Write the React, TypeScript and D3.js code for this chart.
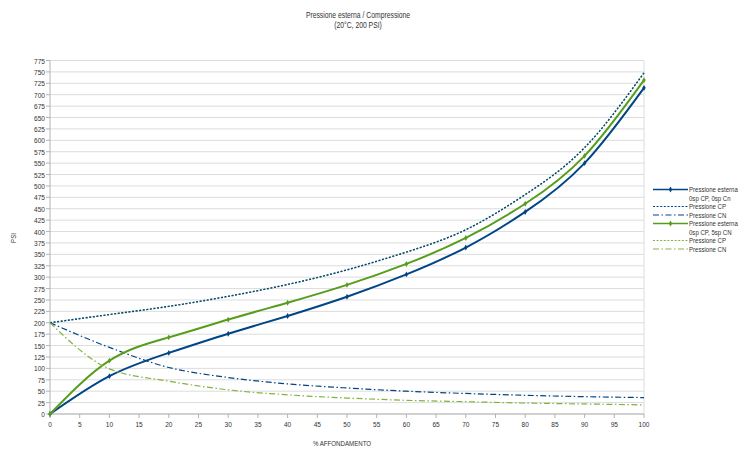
import React from 'react'
import * as d3 from 'd3'

const xValues = [0, 10, 20, 30, 40, 50, 60, 70, 80, 90, 100]
const esterna0 = [0, 83, 134, 176, 215, 257, 306, 365, 443, 550, 715]
const cp0 = [200, 218, 236, 258, 284, 316, 355, 404, 481, 584, 748]
const cn0 = [200, 146, 102, 80, 66, 57, 50, 45, 41, 38, 36]
const esterna5 = [0, 117, 168, 207, 244, 283, 329, 386, 461, 566, 732]
const cp5 = [200, 218, 236, 258, 284, 316, 355, 404, 481, 584, 748]
const cn5 = [200, 99, 72, 53, 42, 35, 30, 27, 24, 22, 20]

const xTicks = d3.range(0, 101, 5)
const yTicks = d3.range(0, 776, 25)

const BLUE = '#004586'
const GREEN = '#579d1c'
const GREEN_LIGHT = '#83b23e'
const FONT = "'Liberation Sans', Arial, sans-serif"

type Series = {
  label: string[]
  values: number[]
  color: string
  dash: string
  width: number
  marker: boolean
  smooth: boolean
}

const series: Series[] = [
  { label: ['Pressione esterna', '0sp CP, 0sp Cn'], values: esterna0, color: BLUE, dash: '', width: 2, marker: true, smooth: true },
  { label: ['Pressione CP'], values: cp0, color: BLUE, dash: '2,1.6', width: 1.4, marker: false, smooth: true },
  { label: ['Pressione CN'], values: cn0, color: BLUE, dash: '6,2.5,1.5,2.5', width: 1.2, marker: false, smooth: false },
  { label: ['Pressione esterna', '0sp CP, 5sp CN'], values: esterna5, color: GREEN, dash: '', width: 2, marker: true, smooth: true },
  { label: ['Pressione CP'], values: cp5, color: GREEN_LIGHT, dash: '2,1.6', width: 1.2, marker: false, smooth: true },
  { label: ['Pressione CN'], values: cn5, color: GREEN_LIGHT, dash: '6,2.5,1.5,2.5', width: 1.2, marker: false, smooth: false },
]

// green CP sits under the blue one
const drawOrder = [4, 0, 1, 2, 3, 5]

// narrow-looking text: Liberation Sans squeezed horizontally
const T = ({ x, y, size, anchor, children }: { x: number; y: number; size: number; anchor?: string; children: React.ReactNode }) => (
  <text
    transform={`translate(${x},${y}) scale(0.82,1)`}
    textAnchor={anchor || 'start'}
    fontSize={size}
    fill="#333"
    fontFamily={FONT}
  >
    {children}
  </text>
)

const App = () => {
  const x = d3.scaleLinear().domain([0, 100]).range([50, 644])
  const y = d3.scaleLinear().domain([0, 775]).range([414, 60.5])

  const makeLine = (smooth: boolean) =>
    d3
      .line<number>()
      .x((_, i) => x(xValues[i]))
      .y((d) => y(d))
      .curve(smooth ? d3.curveNatural : d3.curveMonotoneX)

  const diamond = d3.symbol().type(d3.symbolDiamond).size(10)

  let legendY = 189.5
  const legendRows = series.map((s) => {
    const row = { s, y: legendY }
    legendY += 8.5 * s.label.length
    return row
  })

  return (
    <svg width={750} height={451} style={{ position: 'absolute', left: 0, top: 0, background: '#fff' }}>
      <rect width={750} height={451} fill="#fff" />
      <T x={358} y={18} size={8.3} anchor="middle">
        Pressione esterna / Compressione
      </T>
      <T x={358} y={28} size={8.3} anchor="middle">
        (20°C, 200 PSI)
      </T>

      {yTicks.map((t) => (
        <g key={t}>
          <line x1={50} x2={644} y1={y(t)} y2={y(t)} stroke="#dcdcdc" strokeWidth={1} />
          <line x1={46} x2={50} y1={y(t)} y2={y(t)} stroke="#b3b3b3" />
          <T x={45} y={y(t) + 3} size={8} anchor="end">
            {t}
          </T>
        </g>
      ))}
      <line x1={644} x2={644} y1={60.5} y2={414} stroke="#dcdcdc" />
      <line x1={50} x2={50} y1={60.5} y2={414} stroke="#b3b3b3" />
      <line x1={50} x2={644} y1={414} y2={414} stroke="#b3b3b3" />
      {xTicks.map((t) => (
        <g key={t}>
          <line x1={x(t)} x2={x(t)} y1={414} y2={418} stroke="#b3b3b3" />
          <T x={x(t)} y={427} size={8} anchor="middle">
            {t}
          </T>
        </g>
      ))}

      <T x={342} y={446} size={7.5} anchor="middle">
        % AFFONDAMENTO
      </T>
      <text transform="translate(16,238) rotate(-90) scale(0.82,1)" textAnchor="middle" fontSize={7.5} fill="#333" fontFamily={FONT}>
        PSI
      </text>

      {drawOrder.map((i) => {
        const s = series[i]
        return (
          <g key={i}>
            <path
              d={makeLine(s.smooth)(s.values) || ''}
              fill="none"
              stroke={s.color}
              strokeWidth={s.width}
              strokeDasharray={s.dash || undefined}
            />
            {s.marker &&
              s.values.map((v, j) => (
                <path
                  key={j}
                  d={diamond() || ''}
                  transform={`translate(${x(xValues[j])},${y(v)})`}
                  fill={s.color}
                />
              ))}
          </g>
        )
      })}

      {legendRows.map(({ s, y: ly }, i) => (
        <g key={i}>
          <line
            x1={653}
            x2={688}
            y1={ly}
            y2={ly}
            stroke={s.color}
            strokeWidth={s.marker ? 1.6 : 1.2}
            strokeDasharray={s.dash || undefined}
          />
          {s.marker && <path d={diamond() || ''} transform={`translate(670.5,${ly})`} fill={s.color} />}
          {s.label.map((l, k) => (
            <T key={k} x={689} y={ly + 2.7 + k * 8.5} size={7.4}>
              {l}
            </T>
          ))}
        </g>
      ))}
    </svg>
  )
}

export default App
